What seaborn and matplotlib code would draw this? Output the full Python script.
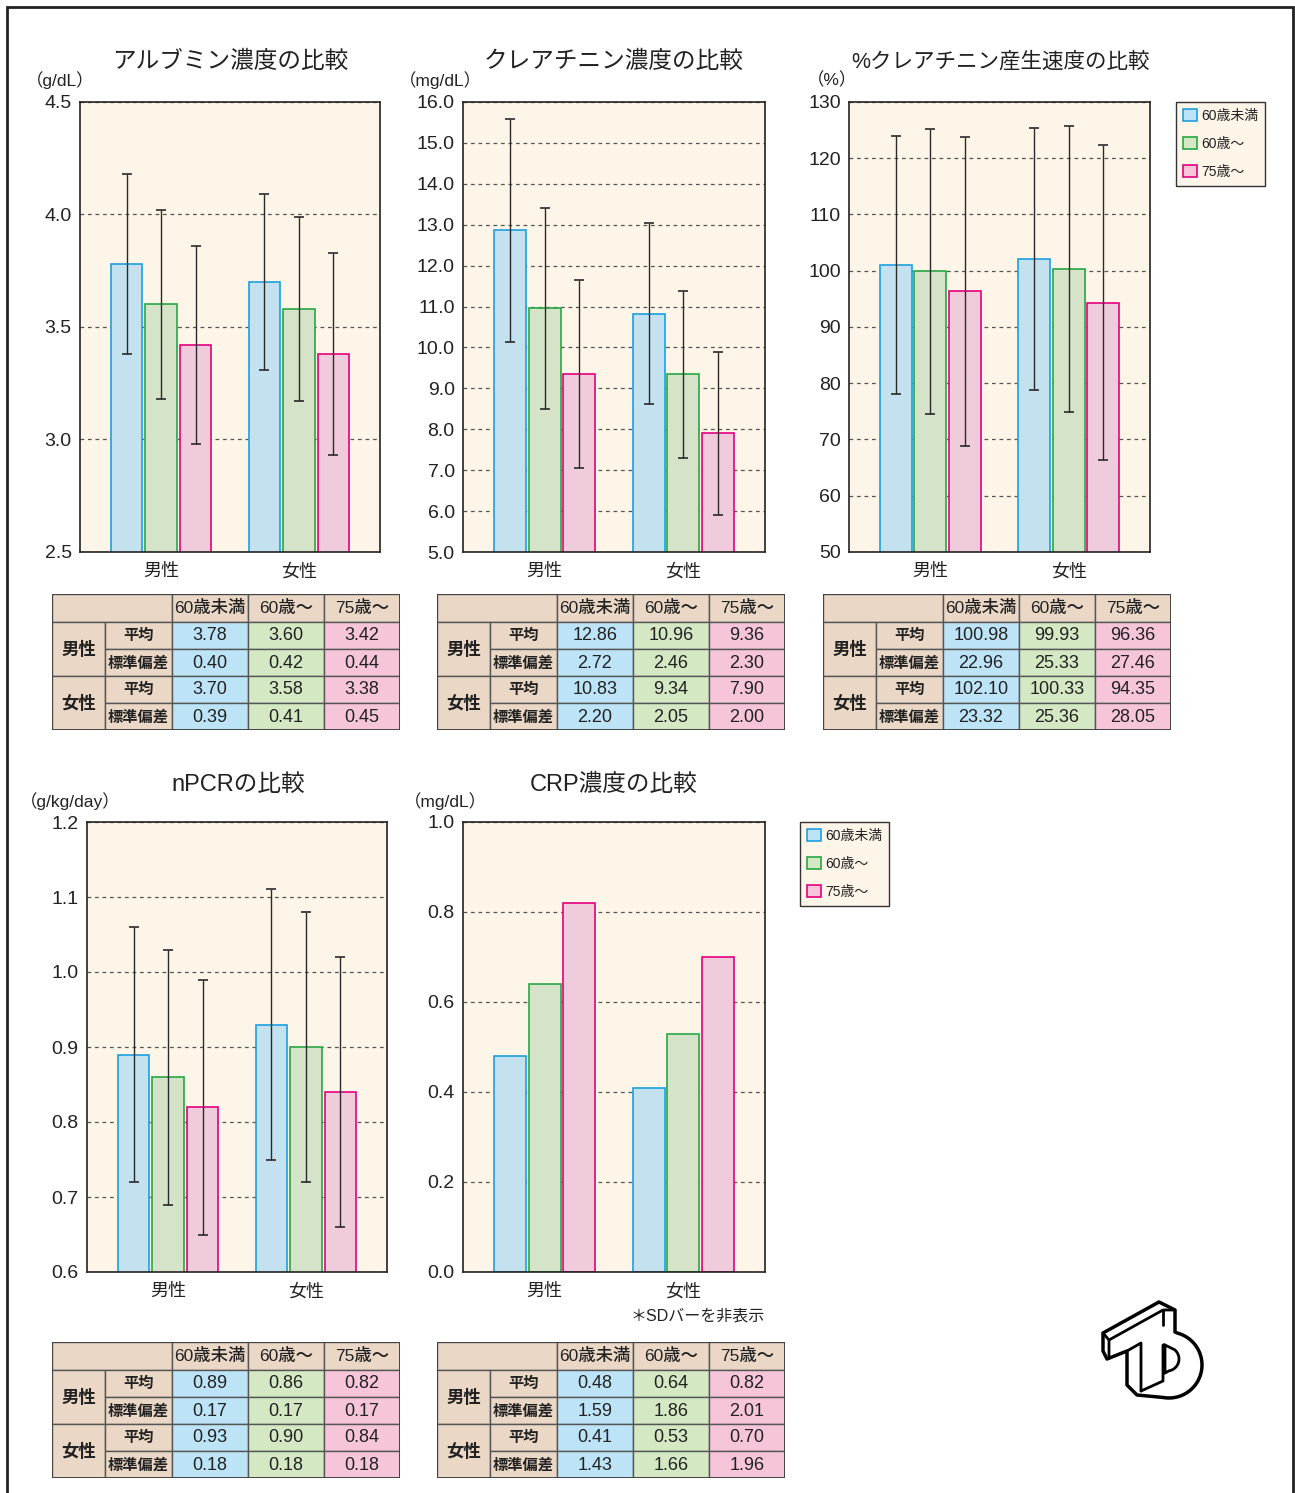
import numpy as np
import pandas as pd
import matplotlib
matplotlib.use("Agg")
import matplotlib.pyplot as plt
import seaborn as sns
from matplotlib.patches import Rectangle, Patch, Polygon

# ---- data ----
sexes = ["男性", "女性"]
groups = ["60歳未満", "60歳～", "75歳～"]

alb_male_mean = [3.78, 3.60, 3.42]
alb_male_sd = [0.40, 0.42, 0.44]
alb_female_mean = [3.70, 3.58, 3.38]
alb_female_sd = [0.39, 0.41, 0.45]

cre_male_mean = [12.86, 10.96, 9.36]
cre_male_sd = [2.72, 2.46, 2.30]
cre_female_mean = [10.83, 9.34, 7.90]
cre_female_sd = [2.20, 2.05, 2.00]

gen_male_mean = [100.98, 99.93, 96.36]
gen_male_sd = [22.96, 25.33, 27.46]
gen_female_mean = [102.10, 100.33, 94.35]
gen_female_sd = [23.32, 25.36, 28.05]

npcr_male_mean = [0.89, 0.86, 0.82]
npcr_male_sd = [0.17, 0.17, 0.17]
npcr_female_mean = [0.93, 0.90, 0.84]
npcr_female_sd = [0.18, 0.18, 0.18]

crp_male_mean = [0.48, 0.64, 0.82]
crp_male_sd = [1.59, 1.86, 2.01]
crp_female_mean = [0.41, 0.53, 0.70]
crp_female_sd = [1.43, 1.66, 1.96]

# ---- style ----
fills = ["#bde3f7", "#d4e8c4", "#f6c5da"]
edges = ["#1c9fe0", "#27a844", "#e4007f"]
bg = "#fdf5e8"
tan = "#ead7c5"
txt = "#222222"

sns.set_theme(style="white")
plt.rcParams["font.family"] = ["Liberation Sans", "Noto Sans CJK JP", "DejaVu Sans"]
plt.rcParams["text.color"] = txt

W, H = 1295, 1493
fig = plt.figure(figsize=(W / 100, H / 100), dpi=100)
fig.patch.set_facecolor("white")


def px_axes(l, t, r, b):
    return fig.add_axes([l / W, 1 - b / H, (r - l) / W, (b - t) / H])


def bar_chart(box, mm, fm, ms, fs, ylim, step, fmt, title, unit, title_xy, unit_xy,
              show_sd=True, title_size=17):
    ax = px_axes(*box)
    ax.set_facecolor(bg)
    df = pd.DataFrame({"sex": np.repeat(sexes, 3), "group": groups * 2, "value": mm + fm})
    sns.barplot(data=df, x="sex", y="value", hue="group", order=sexes, hue_order=groups,
                palette=fills, width=0.75, gap=0.08, linewidth=1.2, legend=False, ax=ax,
                zorder=3)
    bars = list(ax.containers)[:3]
    for cont, ec in zip(bars, edges):
        for p in cont:
            p.set_edgecolor(ec)
    if show_sd:
        for i, cont in enumerate(bars):
            xs = [p.get_x() + p.get_width() / 2 for p in cont]
            ax.errorbar(xs, [mm[i], fm[i]], yerr=[ms[i], fs[i]], fmt="none",
                        ecolor="#2a2a2a", elinewidth=1.0, capsize=3.6, capthick=1.2, zorder=5)
    ax.set_xlim(-0.587, 1.587)
    ax.set_ylim(*ylim)
    ticks = np.arange(ylim[0], ylim[1] + step / 2, step)
    ax.set_yticks(ticks)
    ax.set_yticklabels([fmt.format(t) for t in ticks])
    ax.yaxis.grid(True, linestyle=(0, (3, 3)), color="#555555", linewidth=0.9)
    ax.set_axisbelow(True)
    ax.tick_params(axis="y", length=0, labelsize=14, pad=6, colors=txt)
    ax.tick_params(axis="x", length=0, labelsize=13, pad=8, colors=txt)
    ax.set_xlabel("")
    ax.set_ylabel("")
    for s in ax.spines.values():
        s.set_color("#222222")
        s.set_linewidth(1.2)
        s.set_zorder(6)
    fig.text(title_xy[0] / W, 1 - title_xy[1] / H, title, ha="center", va="center",
             fontsize=title_size)
    fig.text(unit_xy[0] / W, 1 - unit_xy[1] / H, unit, ha="center", va="center", fontsize=12.5)
    return ax


def draw_table(left, top, mm, ms, fm, fs, fmt):
    ax = px_axes(left, top, left + 348, top + 136)
    ax.set_xlim(0, 348)
    ax.set_ylim(136, 0)
    ax.axis("off")
    cols = [120, 196, 272, 348]
    ec = "#555555"

    def cell(x0, y0, w, h, color, text, **kw):
        ax.add_patch(Rectangle((x0, y0), w, h, facecolor=color, edgecolor=ec, linewidth=1))
        ax.text(x0 + w / 2, y0 + h / 2 + 0.5, text, ha="center", va="center", **kw)

    cell(0, 0, 120, 28, tan, "")
    for j, g in enumerate(groups):
        cell(cols[j], 0, 76, 28, tan, g, fontsize=12.5, fontweight="medium")
    rows = [(sexes[0], "平均", mm), (sexes[0], "標準偏差", ms),
            (sexes[1], "平均", fm), (sexes[1], "標準偏差", fs)]
    for k in range(2):
        cell(0, 28 + k * 54, 53, 54, tan, sexes[k], fontsize=12.5, fontweight="bold")
    for r, (sx, lab, vals) in enumerate(rows):
        y0 = 28 + r * 27
        cell(53, y0, 67, 27, tan, lab, fontsize=11, fontweight="bold")
        for j in range(3):
            cell(cols[j], y0, 76, 27, fills[j], fmt.format(vals[j]), fontsize=13)
    ax.add_patch(Rectangle((0, 0), 348, 136, fill=False, edgecolor="#444444", linewidth=1.4))


def add_legend(x, y):
    handles = [Patch(facecolor=f, edgecolor=e, linewidth=1.2) for f, e in zip(fills, edges)]
    leg = fig.legend(handles, groups, loc="upper left", bbox_to_anchor=(x / W, 1 - y / H),
                     frameon=True, fancybox=False, edgecolor="#333333", facecolor=bg,
                     fontsize=10, handlelength=1.0, handleheight=1.0, handletextpad=0.3,
                     labelspacing=1.0, borderpad=0.5, borderaxespad=0, framealpha=1)
    leg.get_frame().set_linewidth(1.0)


# ---- charts ----
bar_chart((80, 102, 380, 552), alb_male_mean, alb_female_mean, alb_male_sd, alb_female_sd,
          (2.5, 4.5), 0.5, "{:.1f}", "アルブミン濃度の比較", "（g/dL）", (230, 62), (60, 80))
bar_chart((463, 102, 765, 552), cre_male_mean, cre_female_mean, cre_male_sd, cre_female_sd,
          (5.0, 16.0), 1.0, "{:.1f}", "クレアチニン濃度の比較", "（mg/dL）", (614, 62), (440, 80))
bar_chart((849, 102, 1150, 552), gen_male_mean, gen_female_mean, gen_male_sd, gen_female_sd,
          (50, 130), 10, "{:.0f}", "%クレアチニン産生速度の比較", "（%）", (1000, 62), (832, 80),
          title_size=15.5)
bar_chart((87, 822, 387, 1272), npcr_male_mean, npcr_female_mean, npcr_male_sd, npcr_female_sd,
          (0.6, 1.2), 0.1, "{:.1f}", "nPCRの比較", "（g/kg/day）", (238, 785), (70, 801))
bar_chart((463, 822, 765, 1272), crp_male_mean, crp_female_mean, crp_male_sd, crp_female_sd,
          (0.0, 1.0), 0.2, "{:.1f}", "CRP濃度の比較", "（mg/dL）", (614, 785), (445, 801),
          show_sd=False)
fig.text(765 / W, 1 - 1316 / H, "＊SDバーを非表示", ha="right", va="center", fontsize=11.5)

# ---- tables ----
draw_table(52, 594, alb_male_mean, alb_male_sd, alb_female_mean, alb_female_sd, "{:.2f}")
draw_table(437, 594, cre_male_mean, cre_male_sd, cre_female_mean, cre_female_sd, "{:.2f}")
draw_table(823, 594, gen_male_mean, gen_male_sd, gen_female_mean, gen_female_sd, "{:.2f}")
draw_table(52, 1342, npcr_male_mean, npcr_male_sd, npcr_female_mean, npcr_female_sd, "{:.2f}")
draw_table(437, 1342, crp_male_mean, crp_male_sd, crp_female_mean, crp_female_sd, "{:.2f}")

# ---- legends ----
add_legend(1176, 102)
add_legend(800, 822)

# ---- logo (rough isometric "TD" outline) ----
lax = px_axes(1095, 1295, 1205, 1405)
lax.set_xlim(0, 110)
lax.set_ylim(110, 0)
lax.axis("off")
ang = np.radians(np.linspace(-75, 100, 40))
arc = [(74 + 33 * np.cos(a), 70 + 33 * np.sin(a)) for a in ang]
outline = [(8, 38), (64, 7), (80, 15), (80, 37)] + arc + [(42, 100), (32, 90), (32, 56), (12, 64), (8, 56)]
lax.add_patch(Polygon(outline, closed=True, facecolor="white", edgecolor="black",
                      linewidth=2.5, joinstyle="round"))
lax.plot([8, 14, 14], [38, 45, 63], color="black", lw=2)
lax.plot([14, 68, 80], [45, 15, 15], color="black", lw=2)
lax.plot([68, 68], [15, 30], color="black", lw=2)
lax.plot([32, 46, 46], [56, 48, 96], color="black", lw=2)
lax.plot([46, 68, 68], [96, 86, 50], color="black", lw=2)
hole_ang = np.radians(np.linspace(-50, 80, 20))
hole = [(70, 50)] + [(72 + 12 * np.cos(a), 64 + 12 * np.sin(a)) for a in hole_ang] + [(70, 78)]
lax.add_patch(Polygon(hole, closed=True, facecolor="white", edgecolor="black", linewidth=2))

# ---- outer frame ----
fig.add_artist(Rectangle((7 / W, -0.02), 1286 / W, (H - 7) / H + 0.02, transform=fig.transFigure,
                         fill=False, edgecolor="#222222", linewidth=2))

fig.savefig("out.png", dpi=100)
